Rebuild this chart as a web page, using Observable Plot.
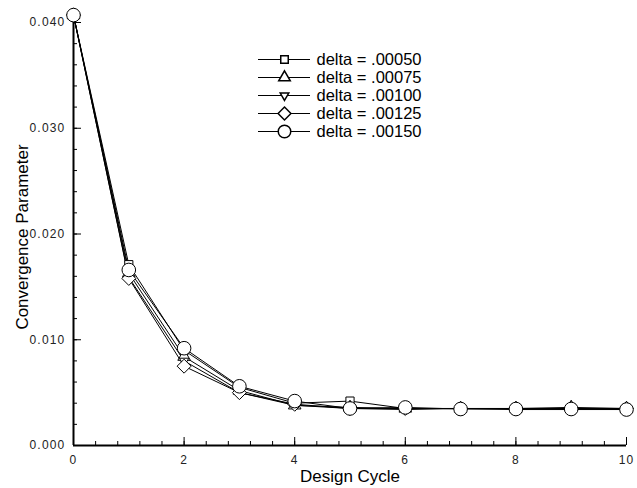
<!DOCTYPE html>
<html><head><meta charset="utf-8">
<script src="https://cdn.jsdelivr.net/npm/d3@7"></script>
<script src="https://cdn.jsdelivr.net/npm/@observablehq/plot@0.6"></script>
<style>
body{margin:0;background:#fff;}
#wrap{position:relative;width:637px;height:488px;font-family:"Liberation Sans",Arial,sans-serif;}
#legend{position:absolute;left:258px;top:48px;}
.main g[aria-label$="tick label"] text{letter-spacing:1.2px;}
</style></head>
<body><div id="wrap"><div id="chart"></div><div id="legend"></div></div>
<script>
const cycles = [0,1,2,3,4,5,6,7,8,9,10];
const labels = ["delta = .00050","delta = .00075","delta = .00100","delta = .00125","delta = .00150"];
const d00050 = [0.0407,0.0171,0.0090,0.0055,0.0040,0.0042,0.0035,0.0035,0.0035,0.0035,0.0035];
const d00075 = [0.0407,0.0163,0.0084,0.0052,0.0038,0.0036,0.0035,0.0035,0.0035,0.0036,0.0035];
const d00100 = [0.0407,0.0159,0.0080,0.0050,0.0038,0.0035,0.0034,0.0035,0.0034,0.0034,0.0034];
const d00125 = [0.0407,0.0158,0.0075,0.0050,0.0039,0.0035,0.0035,0.0035,0.0035,0.0035,0.0035];
const d00150 = [0.0407,0.0166,0.0092,0.0056,0.0042,0.0035,0.0036,0.00345,0.00345,0.00345,0.0034];
const xMajor = [0,2,4,6,8,10];
const xMinor = d3.range(0,10.01,0.4);
const yMajor = [0,0.01,0.02,0.03,0.04];
const yMinor = d3.range(0,0.0401,0.002);

const W = 637, H = 488, mL = 73, mR = 11, mT = 22, mB = 43;
const frameW = W - mL - mR, frameH = H - mT - mB;
const xDom = [0,10], yDom = [0,0.04];
const xPer = (xDom[1]-xDom[0])/frameW, yPer = (yDom[1]-yDom[0])/frameH;

const invTriangle = {draw(ctx, size){
  const s = Math.sqrt(size/(Math.sqrt(3)*0.75));
  const h = s*Math.sqrt(3)/2;
  ctx.moveTo(0, h*2/3); ctx.lineTo(s/2, -h/3); ctx.lineTo(-s/2, -h/3); ctx.closePath();
}};
const symbols = ["square2","triangle2",invTriangle,"diamond2","circle"];
const sizes = [5.2,6,6,6.3,6.8];
const seriesValues = [d00050,d00075,d00100,d00125,d00150];
const rows = [];
seriesValues.forEach((vals,i)=>vals.forEach((v,j)=>rows.push({series:labels[i], idx:i, x:cycles[j], y:v})));

const font = "'Liberation Sans', Arial, sans-serif";
const marks = [
  Plot.ruleX(xMinor,{x:d=>d,y1:0,y2:4*yPer,stroke:"#000",strokeWidth:1}),
  Plot.ruleX(xMajor,{x:d=>d,y1:0,y2:8*yPer,stroke:"#000",strokeWidth:1}),
  Plot.ruleY(yMinor,{y:d=>d,x1:0,x2:4*xPer,stroke:"#000",strokeWidth:1}),
  Plot.ruleY(yMajor,{y:d=>d,x1:0,x2:8*xPer,stroke:"#000",strokeWidth:1}),
  Plot.ruleX([0],{strokeWidth:2}),
  Plot.ruleY([0],{strokeWidth:2}),
  Plot.axisX(xMajor,{tickSize:0,tickPadding:10,tickFormat:d=>String(d),fontSize:12,fill:"#222",label:null}),
  Plot.axisY(yMajor,{tickSize:0,tickPadding:8,tickFormat:d=>d.toFixed(3),fontSize:12,fill:"#222",label:null}),
  Plot.text(["Design Cycle"],{frameAnchor:"bottom",dy:36,fontSize:17,fill:"#000"}),
  Plot.text(["Convergence Parameter"],{frameAnchor:"left",textAnchor:"middle",dx:-51,dy:3,rotate:-90,fontSize:17,fill:"#000"})
];
labels.forEach((lab,i)=>{
  const data = rows.filter(r=>r.idx===i);
  marks.push(Plot.line(data,{x:"x",y:"y",stroke:"#000",strokeWidth:1}));
});
labels.forEach((lab,i)=>{
  const data = rows.filter(r=>r.idx===i);
  marks.push(Plot.dot(data,{x:"x",y:"y",symbol:()=>symbols[i],r:sizes[i],stroke:"#000",fill:"#fff",strokeWidth:1}));
});

const chart = Plot.plot({
  className:"main",
  width:W, height:H,
  marginLeft:mL, marginRight:mR, marginTop:mT, marginBottom:mB,
  x:{domain:xDom},
  y:{domain:yDom},
  symbol:{type:"identity"},
  style:{fontFamily:font, background:"#fff"},
  marks
});
document.getElementById("chart").append(chart);

const legendRows = labels.map((l,i)=>({label:l, idx:i}));
const legendMarks = [Plot.ruleY(legendRows,{y:"label",stroke:"#000",strokeWidth:1})];
legendRows.forEach((row,i)=>{
  legendMarks.push(Plot.dot([row],{y:"label",frameAnchor:"middle",symbol:()=>symbols[i],r:sizes[i]*0.92,stroke:"#000",fill:"#fff"}));
});
legendMarks.push(Plot.text(legendRows,{y:"label",text:"label",frameAnchor:"right",dx:6,textAnchor:"start",fontSize:16.5,fill:"#000"}));
const legend = Plot.plot({
  width:200, height:93,
  marginLeft:0, marginRight:148, marginTop:9, marginBottom:9,
  x:{axis:null}, y:{type:"point", domain:labels, padding:0, axis:null},
  symbol:{type:"identity"},
  style:{fontFamily:font, background:"transparent", overflow:"visible"},
  marks:legendMarks
});
document.getElementById("legend").append(legend);
</script></body></html>
